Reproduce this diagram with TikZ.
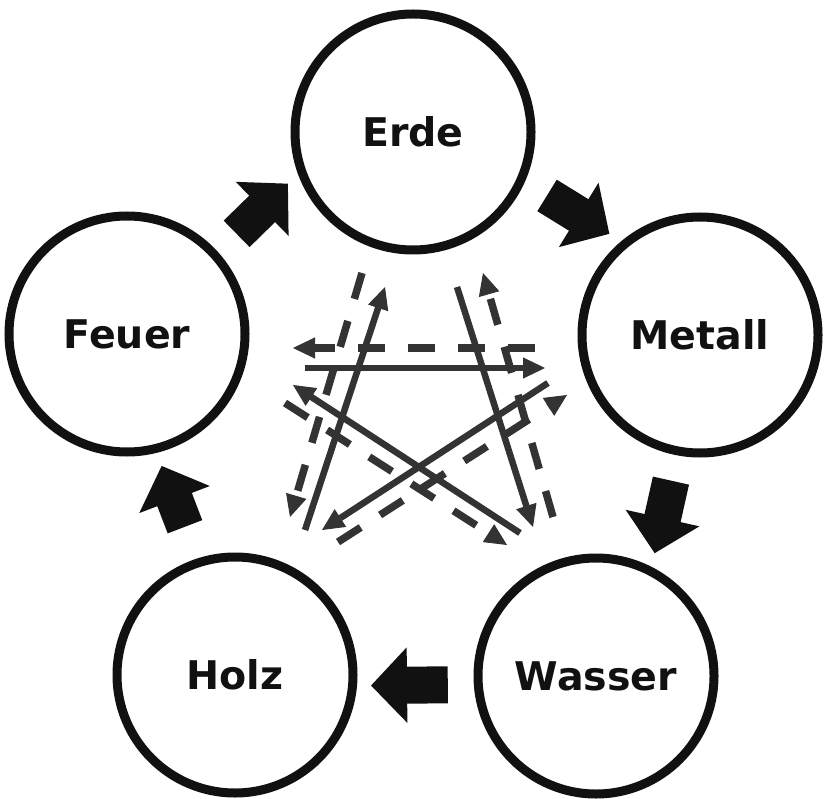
\documentclass[tikz,border=0pt]{standalone}
\usepackage{fontspec}
\newfontfamily\elemfont{DejaVu Sans}
\usepackage{xcolor}
\usetikzlibrary{arrows.meta}

\definecolor{ink}{HTML}{111111}
\definecolor{stargray}{HTML}{333333}

\begin{document}
\begin{tikzpicture}[
      x=1pt, y=-1pt,
      elem/.style={circle, draw=ink, line width=9pt, minimum size=236pt, text=ink,
        font=\elemfont\bfseries\fontsize{39.5}{40}\selectfont},
      blk/.style={draw=ink, line width=37pt,
        -{Triangle[length=36pt, width=75pt, line width=3pt]},
        shorten <=26pt, shorten >=14pt},
      ctl/.style={draw=stargray, line width=6.5pt,
        -{Triangle[length=22pt, width=21pt, line width=1pt]}},
      ins/.style={ctl, line width=7.5pt, dash pattern=on 27pt off 23pt},
    ]
  \useasboundingbox (0,0) rectangle (824,799);

  % die fuenf Elemente
  \node[elem] (erde) at (413,132) {Erde};
  \node[elem] (metall) at (700,335) {Metall};
  \node[elem] (wasser) at (596,676) {Wasser};
  \node[elem] (holz) at (235,675) {Holz};
  \node[elem] (feuer) at (127,334) {Feuer};

  % Hervorbringungszyklus
  \draw[blk] (feuer.42) -- (erde.200);
  \draw[blk] (erde.-24.5) -- (metall.130.5);
  \draw[blk] (metall.259) -- (wasser.63);
  \draw[blk] (wasser.184) -- (holz.-5);
  \draw[blk, shorten <=34pt] (holz.108) -- (feuer.-76);

  % Endpunkte im Stern
  \coordinate (fm-a) at (305,368);  \coordinate (fm-b) at (545,368);
  \coordinate (he-a) at (305,530);  \coordinate (he-b) at (385,287);
  \coordinate (ew-a) at (457,287);  \coordinate (ew-b) at (533,527);
  \coordinate (mh-a) at (548,383);  \coordinate (mh-b) at (322,530);
  \coordinate (wf-a) at (520,533);  \coordinate (wf-b) at (293,385);

  \coordinate (mf-a) at (535,348);  \coordinate (mf-b) at (293,348);
  \coordinate (eh-a) at (362,273);  \coordinate (eh-b) at (290,517);
  \coordinate (we-a) at (553,517);  \coordinate (we-b) at (483,273);
  \coordinate (hm-a) at (338,542);  \coordinate (hm-b) at (567,395);
  \coordinate (fw-a) at (285,403);  \coordinate (fw-b) at (507,545);

  % Kontrollzyklus
  \draw[ctl] (fm-a) -- (fm-b);
  \draw[ctl] (he-a) -- (he-b);
  \draw[ctl] (ew-a) -- (ew-b);
  \draw[ctl] (mh-a) -- (mh-b);
  \draw[ctl] (wf-a) -- (wf-b);

  % umgekehrt (gestrichelt)
  \draw[ins] (mf-a) -- (mf-b);
  \draw[ins] (eh-a) -- (eh-b);
  \draw[ins] (we-a) -- (we-b);
  \draw[ins] (hm-a) -- (hm-b);
  \draw[ins] (fw-a) -- (fw-b);
\end{tikzpicture}
\end{document}
